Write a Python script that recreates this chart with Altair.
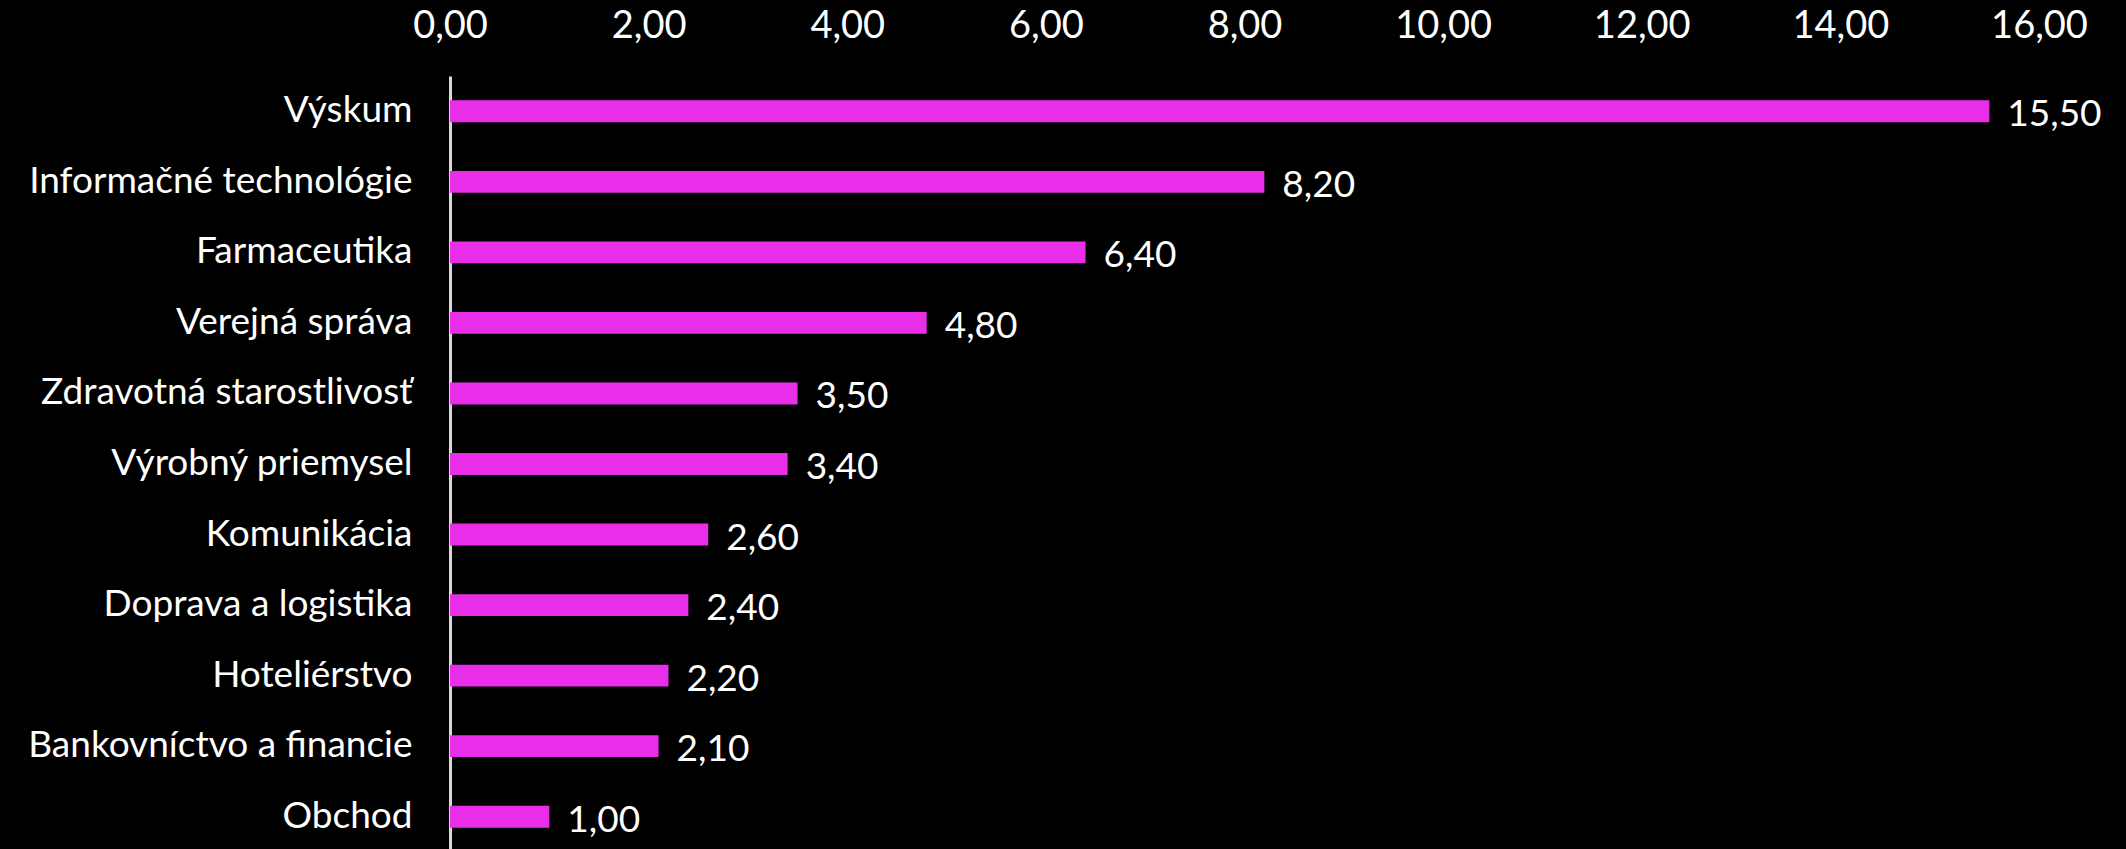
import altair as alt
import pandas as pd

categories = ["Výskum", "Informačné technológie", "Farmaceutika", "Verejná správa",
              "Zdravotná starostlivosť", "Výrobný priemysel", "Komunikácia",
              "Doprava a logistika", "Hoteliérstvo", "Bankovníctvo a financie", "Obchod"]
values = [15.50, 8.20, 6.40, 4.80, 3.50, 3.40, 2.60, 2.40, 2.20, 2.10, 1.00]
x_ticks = [0, 2, 4, 6, 8, 10, 12, 14, 16]

df = pd.DataFrame({"cat": categories, "val": values})
df["lbl"] = [f"{v:.2f}".replace(".", ",") for v in values]

FONT = "Lato"
FS = 37
BAR = "#E92EE9"

x = alt.X("val:Q", scale=alt.Scale(domain=[0, 16], nice=False),
          axis=alt.Axis(orient="top", values=x_ticks, grid=False, ticks=False, domain=False,
                        labelExpr="replace(format(datum.value, '.2f'), '.', ',')",
                        labelFont=FONT, labelFontSize=38, labelColor="white",
                        labelFlush=False, labelPadding=31, title=None))
y = alt.Y("cat:N", sort=categories,
          scale=alt.Scale(paddingInner=0.69, paddingOuter=0.345),
          axis=alt.Axis(ticks=False, domain=True, domainColor="#d9d9d9", domainWidth=3,
                        labelFont=FONT, labelFontSize=FS, labelColor="white",
                        labelPadding=38, title=None, labelLimit=600))

bars = alt.Chart(df).mark_bar(color=BAR).encode(x=x, y=y)
text = alt.Chart(df).mark_text(align="left", baseline="middle", dx=18, dy=4,
                                font=FONT, fontSize=FS, color="white").encode(
    x=alt.X("val:Q"), y=alt.Y("cat:N", sort=categories), text="lbl:N")

chart = (bars + text).properties(
    width=1589, height=776,
    background="black",
    autosize=alt.AutoSizeParams(type="none"),
    padding={"left": 450, "top": 76, "right": 87, "bottom": 0},
).configure_view(stroke=None)

chart.save("out.html", embed_options={"renderer": "svg", "actions": False})
